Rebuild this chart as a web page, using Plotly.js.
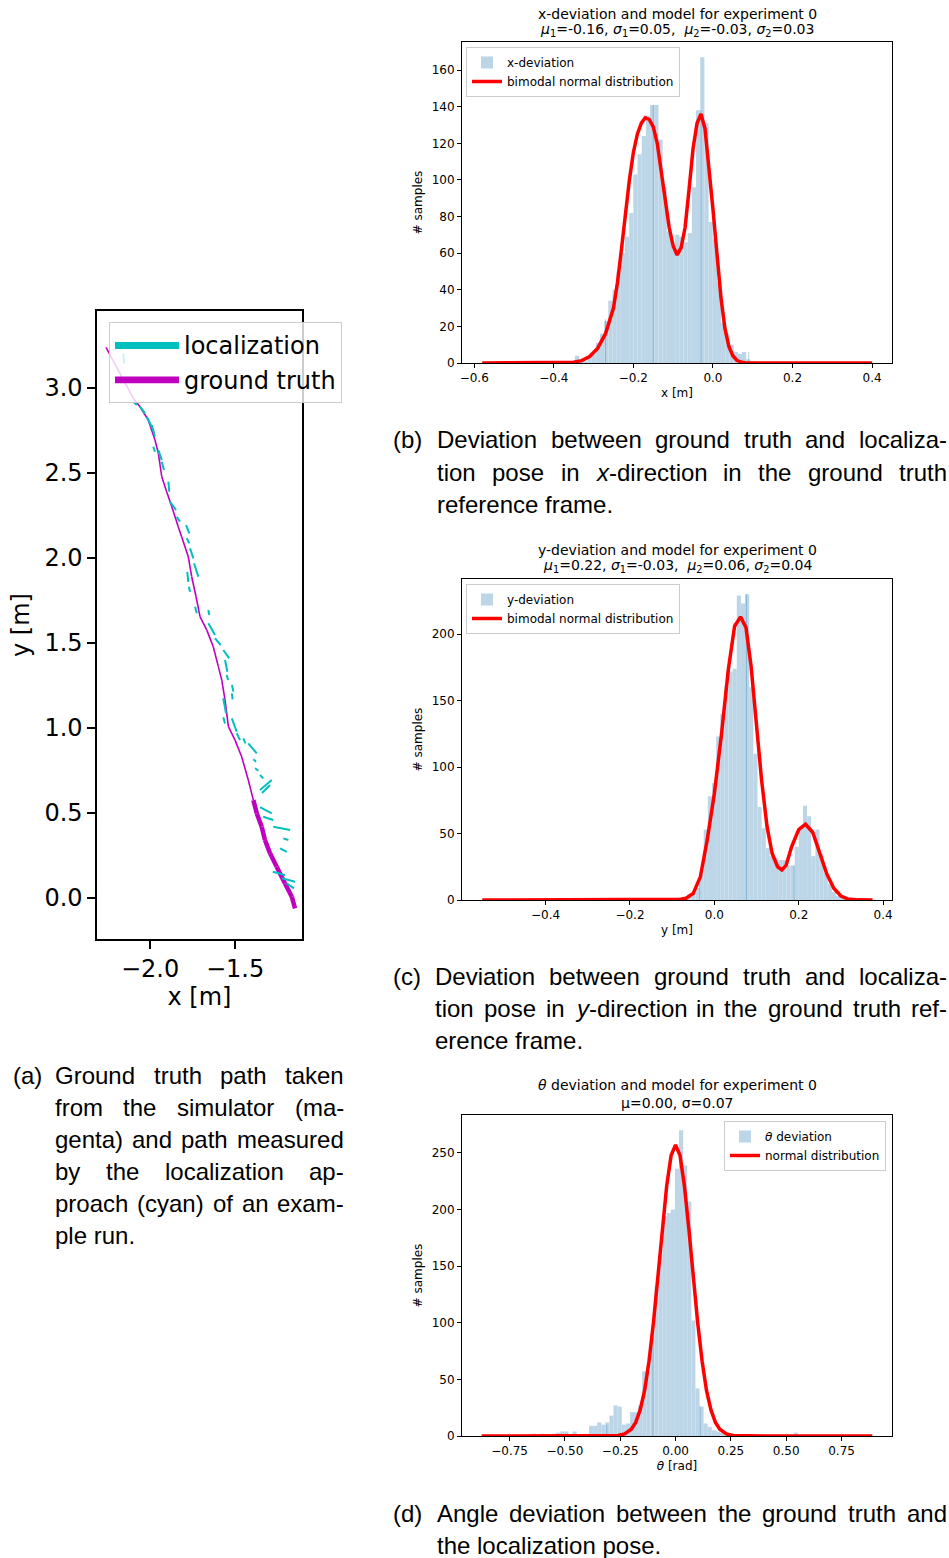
<!DOCTYPE html>
<html><head><meta charset="utf-8">
<script src="https://cdn.plot.ly/plotly-3.0.1.min.js"></script>
<style>body{margin:0;padding:0;background:#fff}#chart{width:949px;height:1558px}</style>
</head><body><div id="chart"></div>
<script>
// ---------- (a) paths ----------
const gtX = [-2.259,-2.098,-2.059,-2.010,-1.971,-1.951,-1.931,-1.902,-1.872,-1.834,-1.814,-1.775,-1.755,-1.729,-1.706,-1.666,-1.628,-1.598,-1.578,-1.559,-1.539,-1.500,-1.461,-1.422,-1.392];
const gtY = [3.239,2.939,2.890,2.812,2.694,2.616,2.478,2.390,2.302,2.184,2.125,2.008,1.890,1.772,1.655,1.576,1.478,1.361,1.282,1.165,1.008,0.929,0.831,0.694,0.576];
const gtLowX = [-1.392,-1.372,-1.343,-1.324,-1.294,-1.255,-1.206,-1.166,-1.147];
const gtLowY = [0.576,0.498,0.419,0.341,0.263,0.184,0.086,0.008,-0.061];
const locStartX = [-2.157,-2.098,-2.059,-2.019,-1.990,-1.981,-1.951,-1.931,-1.892,-1.882,-1.843,-1.788,-1.784,-1.765,-1.741,-1.781,-1.771,-1.735,-1.657,-1.657,-1.618,-1.569,-1.559,-1.549,-1.518,-1.519,-1.569,-1.569,-1.519,-1.490,-1.451,-1.422,-1.392,-1.382,-1.353,-1.353,-1.341,-1.353,-1.334,-1.275,-1.216,-1.235,-1.278,-1.225,-1.196];
const locStartY = [3.204,2.919,2.890,2.831,2.782,2.655,2.635,2.566,2.449,2.331,2.243,2.194,2.116,2.057,1.969,1.919,1.831,1.714,1.694,1.616,1.528,1.459,1.400,1.312,1.253,1.204,1.175,1.063,1.057,0.969,0.939,0.910,0.816,0.763,0.724,0.635,0.618,0.535,0.478,0.419,0.351,0.292,0.155,0.116,0.086];
const locEndX = [-2.152,-2.078,-2.029,-1.990,-1.971,-1.971,-1.931,-1.918,-1.887,-1.847,-1.824,-1.769,-1.769,-1.745,-1.716,-1.775,-1.765,-1.725,-1.652,-1.618,-1.584,-1.534,-1.545,-1.541,-1.510,-1.514,-1.553,-1.559,-1.490,-1.471,-1.439,-1.372,-1.376,-1.363,-1.334,-1.284,-1.294,-1.284,-1.275,-1.176,-1.186,-1.196,-1.206,-1.147,-1.153];
const locEndY = [3.145,2.900,2.851,2.772,2.714,2.625,2.576,2.518,2.390,2.282,2.214,2.145,2.086,1.998,1.890,1.860,1.802,1.675,1.665,1.547,1.488,1.410,1.331,1.282,1.214,1.169,1.086,1.027,0.978,0.929,0.910,0.851,0.801,0.749,0.704,0.694,0.665,0.498,0.459,0.400,0.341,0.272,0.135,0.096,0.057];

// ---------- (b) x-deviation ----------
const xdevBinStart = -0.347, xdevBinWidth = 0.0105;
const xdevCounts = [4,1,1,3,5,11,16,23,34,40,50,60,69,82,103,114,124,135,141,141,122,96,72,64,70,69,66,71,96,138,167,131,77,68,44,22,16,10,6,5,6,2,1];
const xdevEdgeX = [-0.27,-0.15,-0.03,0.09];
const xdevEdgeH = [24,141,138,6];
const xModelX = [-0.58,-0.45,-0.38,-0.35,-0.33,-0.31,-0.29,-0.27,-0.25,-0.24,-0.23,-0.22,-0.21,-0.20,-0.19,-0.18,-0.17,-0.16,-0.15,-0.14,-0.13,-0.12,-0.11,-0.10,-0.09,-0.08,-0.07,-0.06,-0.05,-0.04,-0.03,-0.02,-0.01,0.00,0.01,0.02,0.03,0.04,0.05,0.06,0.07,0.08,0.10,0.20,0.40];
const xModelY = [0,0,0.1,0.4,1.3,3.5,8,16,30,44,62,82,100,115,125,131,134,133,129,120,105,88,74,64,59,63,74,95,117,131,136,128,107,84,60,36,19,9,4,1.5,0.5,0.1,0,0,0];

// ---------- (c) y-deviation ----------
const ydevBinStart = -0.084, ydevBinWidth = 0.0098;
const ydevCounts = [1,2,4,5,9,19,53,78,88,123,140,161,172,174,229,223,230,160,110,70,54,39,33,32,30,30,26,26,40,55,71,63,33,53,35,20,12,6,3,2,1,1];
const ydevEdgeX = [-0.035,0.076,0.189];
const ydevEdgeH = [18,230,26];
const yModelX = [-0.55,-0.3,-0.15,-0.1,-0.08,-0.067,-0.05,-0.033,-0.017,0.0,0.017,0.033,0.048,0.062,0.075,0.087,0.10,0.112,0.125,0.137,0.15,0.16,0.17,0.183,0.20,0.216,0.233,0.25,0.266,0.283,0.30,0.316,0.34,0.375];
const yModelY = [0,0,0,0.2,0.6,1.3,5,17.6,45,80,125,173,206,213,205,176,133,90,55,35,25,22.6,26,40,53,57,51,35,20,8.8,3,0.8,0.1,0];

// ---------- (d) theta deviation ----------
const thBinStart = -0.65025, thBinWidth = 0.0185;
const thCounts = [2,0,2,0,1,2,3,4,4,1,4,1,2,2,9,9,12,10,12,18,27,26,10,11,21,21,27,57,57,90,132,161,194,197,200,236,270,239,207,102,42,26,11,8,5,4,3,2,1,1,0,1,1,0,1,1,0,1,1,0,1,0,1,1,3,1];
const thEdgeX = [-0.311,-0.102,0.111];
const thEdgeH = [10,100,26];
const thModelX = [-0.876,-0.6,-0.4,-0.3,-0.26,-0.23,-0.2,-0.18,-0.16,-0.14,-0.12,-0.1,-0.08,-0.06,-0.04,-0.02,0,0.02,0.04,0.06,0.08,0.1,0.12,0.14,0.16,0.18,0.2,0.23,0.26,0.3,0.4,0.6,0.889];
const thModelY = [0,0,0,0.1,0.4,1.8,6,12,23,40,66,100,140,183,221,248,257,248,221,183,140,100,66,40,23,12,6,1.8,0.4,0.1,0,0,0];

// ---------- captions ----------
const capA = ['Ground truth path taken','from the simulator (ma-','genta) and path measured','by the localization ap-','proach (cyan) of an exam-','ple run.'];
const capB = ['Deviation between ground truth and localiza-','tion pose in <i>x</i>-direction in the ground truth','reference frame.'];
const capC = ['Deviation between ground truth and localiza-','tion pose in <i>y</i>-direction in the ground truth ref-','erence frame.'];
const capD = ['Angle deviation between the ground truth and','the localization pose.'];

// ---------- helpers ----------
const W = 949, H = 1558;
const px = v => v / W;
const py = v => 1 - v / H;
const CYAN = '#00bfbf', MAG = '#bf00bf', BLUE = 'rgb(188,213,231)', RED = '#ff0000';
const F = 'DejaVu Sans';
const CAPF = 'Liberation Sans';
const AF = 24; // font size of panel (a)

function segs(sx, sy, ex, ey){
  const X=[],Y=[];
  for(let i=0;i<sx.length;i++){X.push(sx[i],ex[i],null);Y.push(sy[i],ey[i],null);}
  return {X,Y};
}
function chain(xs, ys){
  const X=[],Y=[];
  for(let i=0;i<xs.length-1;i++){X.push(xs[i],xs[i+1],null);Y.push(ys[i],ys[i+1],null);}
  return {X,Y};
}
function centers(start,w,n){const c=[];for(let i=0;i<n;i++)c.push(start+(i+0.5)*w);return c;}
function edges(xs,hs){const X=[],Y=[];for(let i=0;i<xs.length;i++){X.push(xs[i],xs[i],null);Y.push(0,hs[i],null);}return {X,Y};}

const loc = segs(locStartX, locStartY, locEndX, locEndY);
const gt = chain(gtX, gtY);
const gtLow = chain(gtLowX, gtLowY);
const xe = edges(xdevEdgeX, xdevEdgeH), ye = edges(ydevEdgeX, ydevEdgeH), te = edges(thEdgeX, thEdgeH);

const data = [
  {type:'scatter', mode:'lines', x:gt.X, y:gt.Y, xaxis:'x', yaxis:'y', name:'ground truth', legend:'legend',
   line:{color:MAG, width:1.6}, fill:'toself', fillcolor:MAG, connectgaps:false, legendrank:2, hoverinfo:'skip'},
  {type:'scatter', mode:'lines', x:gtLow.X, y:gtLow.Y, xaxis:'x', yaxis:'y', name:'ground truth', legend:'legend',
   line:{color:MAG, width:4.5}, fill:'toself', fillcolor:MAG, connectgaps:false, showlegend:false, hoverinfo:'skip'},
  {type:'scatter', mode:'lines', x:loc.X, y:loc.Y, xaxis:'x', yaxis:'y', name:'localization', legend:'legend',
   line:{color:CYAN, width:2}, fill:'toself', fillcolor:CYAN, connectgaps:false, legendrank:1, hoverinfo:'skip'},

  {type:'bar', x:centers(xdevBinStart,xdevBinWidth,xdevCounts.length), y:xdevCounts, width:xdevBinWidth,
   marker:{color:BLUE, line:{width:0}}, xaxis:'x2', yaxis:'y2', name:'x-deviation', legend:'legend2'},
  {type:'scatter', mode:'lines', x:xe.X, y:xe.Y, xaxis:'x2', yaxis:'y2', line:{color:'rgba(31,119,180,0.35)', width:1}, showlegend:false, hoverinfo:'skip'},
  {type:'scatter', mode:'lines', x:xModelX, y:xModelY, xaxis:'x2', yaxis:'y2', name:'bimodal normal distribution', legend:'legend2',
   line:{color:RED, width:3.5}},

  {type:'bar', x:centers(ydevBinStart,ydevBinWidth,ydevCounts.length), y:ydevCounts, width:ydevBinWidth,
   marker:{color:BLUE, line:{width:0}}, xaxis:'x3', yaxis:'y3', name:'y-deviation', legend:'legend3'},
  {type:'scatter', mode:'lines', x:ye.X, y:ye.Y, xaxis:'x3', yaxis:'y3', line:{color:'rgba(31,119,180,0.35)', width:1}, showlegend:false, hoverinfo:'skip'},
  {type:'scatter', mode:'lines', x:yModelX, y:yModelY, xaxis:'x3', yaxis:'y3', name:'bimodal normal distribution', legend:'legend3',
   line:{color:RED, width:3.5}},

  {type:'bar', x:centers(thBinStart,thBinWidth,thCounts.length), y:thCounts, width:thBinWidth,
   marker:{color:BLUE, line:{width:0}}, xaxis:'x4', yaxis:'y4', name:'<i>θ</i> deviation', legend:'legend4'},
  {type:'scatter', mode:'lines', x:te.X, y:te.Y, xaxis:'x4', yaxis:'y4', line:{color:'rgba(31,119,180,0.35)', width:1}, showlegend:false, hoverinfo:'skip'},
  {type:'scatter', mode:'lines', x:thModelX, y:thModelY, xaxis:'x4', yaxis:'y4', name:'normal distribution', legend:'legend4',
   line:{color:RED, width:3.5}}
];

function ax(o){
  return Object.assign({showline:true, mirror:true, linecolor:'#000', linewidth:1, ticks:'outside', ticklen:4, tickwidth:1,
    tickcolor:'#000', showgrid:false, zeroline:false, tickfont:{family:F,size:12,color:'#000'}, fixedrange:true}, o);
}
const smallTitle = (t, s) => ({text:t, font:{family:F, size:12, color:'#000'}, standoff:s});
const bigTitle = (t, s) => ({text:t, font:{family:F, size:AF, color:'#000'}, standoff:s});

const legBase = {bgcolor:'rgba(255,255,255,0.8)', bordercolor:'#cccccc', borderwidth:1, font:{family:F,size:12,color:'#000'}, xref:'paper', yref:'paper'};

const ann = [];
function t(text, x, y, size, fam, xanchor){
  ann.push({text, x:px(x), y:py(y), xref:'paper', yref:'paper', xanchor:xanchor||'center', yanchor:'middle',
    showarrow:false, borderpad:0, font:{family:fam||F, size:size, color:'#000'}});
}
// subplot titles
t('x-deviation and model for experiment 0', 677, 14, 14);
t('<i>μ</i><sub>1</sub>=-0.16, <i>σ</i><sub>1</sub>=0.05,  <i>μ</i><sub>2</sub>=-0.03, <i>σ</i><sub>2</sub>=0.03', 677, 30, 14);
t('y-deviation and model for experiment 0', 677, 550, 14);
t('<i>μ</i><sub>1</sub>=0.22, <i>σ</i><sub>1</sub>=-0.03,  <i>μ</i><sub>2</sub>=0.06, <i>σ</i><sub>2</sub>=0.04', 677, 566, 14);
t('<i>θ</i> deviation and model for experiment 0', 677, 1085, 14);
t('μ=0.00, σ=0.07', 677, 1103, 14);

// captions, justified like the LaTeX source
const CS = 24;
const cv = document.createElement('canvas').getContext('2d');
function measure(s){
  const plain = s.replace(/<[^>]+>/g,'');
  cv.font = CS + 'px "' + CAPF + '"';
  return cv.measureText(plain).width;
}
function paragraph(lines, x0, x1, y0){
  lines.forEach((s,i)=>{
    const y = y0 + 32*i;
    if(i === lines.length-1){ t(s, x0, y, CS, CAPF, 'left'); return; }
    const words = s.split(' ');
    const ws = words.map(measure);
    const total = ws.reduce((a,b)=>a+b,0);
    const gap = (x1 - x0 - total)/(words.length-1);
    let x = x0;
    words.forEach((w,k)=>{ t(w, x, y, CS, CAPF, 'left'); x += ws[k] + gap; });
  });
}
t('(a)', 12, 1075, CS, CAPF, 'left');
paragraph(capA, 54, 343, 1075);
t('(b)', 392, 440, CS, CAPF, 'left');
paragraph(capB, 436, 946, 440);
t('(c)', 392, 976, CS, CAPF, 'left');
paragraph(capC, 434, 946, 976);
t('(d)', 392, 1513, CS, CAPF, 'left');
paragraph(capD, 436, 946, 1513);

const layout = {
  width:W, height:H, margin:{l:0,r:0,t:0,b:0}, paper_bgcolor:'#fff', plot_bgcolor:'#fff',
  font:{family:F, color:'#000'}, hovermode:false, barmode:'overlay',
  xaxis: ax({domain:[px(97),px(302)], range:[-2.312,-1.106], dtick:0.5, tick0:0, tickformat:'.1f', ticklen:8, tickwidth:1.6, linewidth:1.6,
    tickfont:{family:F,size:AF,color:'#000'}, title:bigTitle('x [m]',6), anchor:'y'}),
  yaxis: ax({domain:[py(939),py(311)], range:[-0.241,3.453], dtick:0.5, tick0:0, tickformat:'.1f', ticklen:8, tickwidth:1.6, linewidth:1.6,
    tickfont:{family:F,size:AF,color:'#000'}, title:bigTitle('y [m]',8), anchor:'x'}),
  xaxis2: ax({domain:[px(462),px(892)], range:[-0.6307,0.450], dtick:0.2, tick0:0, tickformat:'.1f', title:smallTitle('x [m]',4), anchor:'y2'}),
  yaxis2: ax({domain:[py(363),py(42)], range:[0,175.35], dtick:20, tick0:0, title:smallTitle('# samples',6), anchor:'x2'}),
  xaxis3: ax({domain:[px(462),px(892)], range:[-0.598,0.421], dtick:0.2, tick0:0, tickformat:'.1f', title:smallTitle('y [m]',4), anchor:'y3'}),
  yaxis3: ax({domain:[py(900),py(579)], range:[0,241.5], dtick:50, tick0:0, title:smallTitle('# samples',6), anchor:'x3'}),
  xaxis4: ax({domain:[px(462),px(892)], range:[-0.965,0.978], dtick:0.25, tick0:0, tickformat:'.2f', title:smallTitle('<i>θ</i> [rad]',4), anchor:'y4'}),
  yaxis4: ax({domain:[py(1436),py(1115)], range:[0,283.5], dtick:50, tick0:0, title:smallTitle('# samples',6), anchor:'x4'}),
  legend: Object.assign({}, legBase, {x:px(109), y:py(322), xanchor:'left', yanchor:'top', itemwidth:64,
    font:{family:F,size:AF,color:'#000'}, traceorder:'normal'}),
  legend2: Object.assign({}, legBase, {x:px(466), y:py(47), xanchor:'left', yanchor:'top'}),
  legend3: Object.assign({}, legBase, {x:px(466), y:py(584), xanchor:'left', yanchor:'top'}),
  legend4: Object.assign({}, legBase, {x:px(886), y:py(1121), xanchor:'right', yanchor:'top'}),
  annotations: ann
};
Plotly.newPlot('chart', data, layout, {displayModeBar:false, staticPlot:true});
</script></body></html>
